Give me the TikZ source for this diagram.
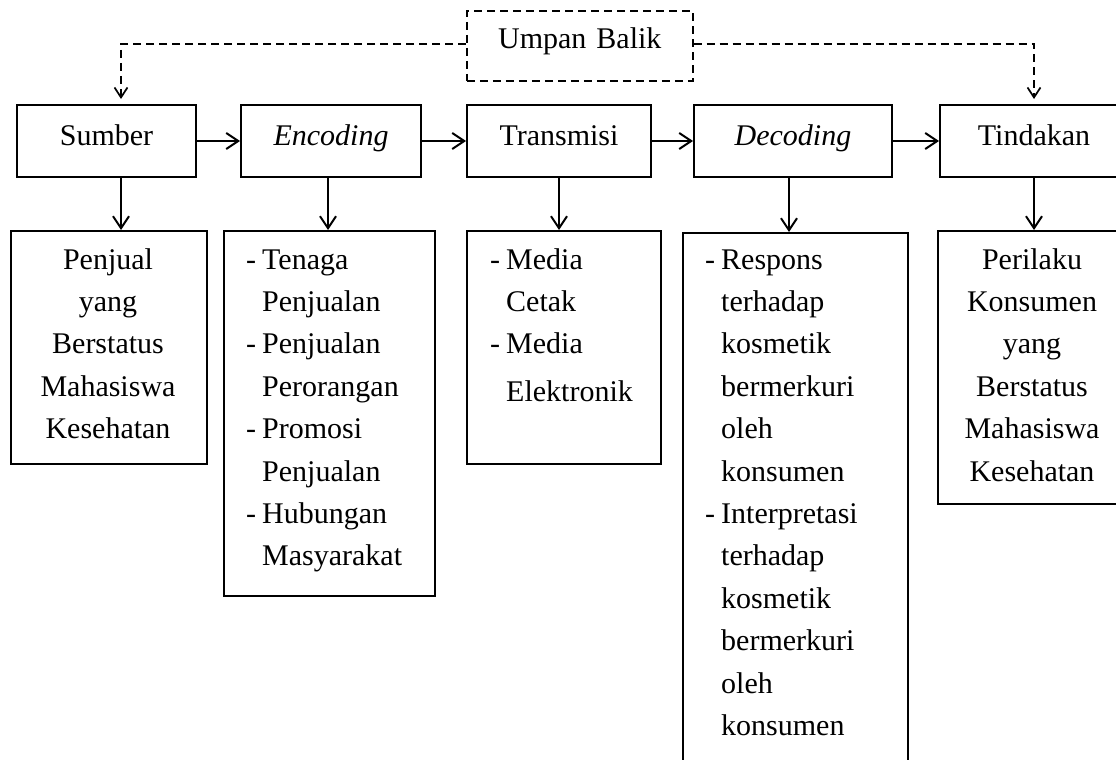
\documentclass[tikz,border=0pt]{standalone}
\usepackage{fontspec}
\setmainfont{Liberation Serif}
\usetikzlibrary{arrows.meta}
\begin{document}
\begin{tikzpicture}[x=1pt,y=-1pt,
  boxst/.style={draw, line width=2pt, inner sep=0pt, anchor=north west, font=\fontsize{30}{42.4}\selectfont, text height=20pt, text depth=12pt},
  lbl/.style={inner sep=0pt, font=\fontsize{30}{42.4}\selectfont},
  arr/.style={line width=2pt, -{Straight Barb[length=12pt,width=16pt,line width=2pt]}},
  fb/.style={line width=1.7pt, dash pattern=on 8pt off 5pt, shorten >=5pt, -{Straight Barb[length=10pt,width=13pt,line width=1.7pt]}}]
\fill[white] (0,0) rectangle (1116,760);
\clip (0,0) rectangle (1116,760);

% top row
\node[boxst, minimum width=179pt, minimum height=72pt] (sum) at (16,104) {Sumber};
\node[boxst, minimum width=180pt, minimum height=72pt] (enc) at (240,104) {\itshape Encoding};
\node[boxst, minimum width=184pt, minimum height=72pt] (tra) at (466,104) {Transmisi};
\node[boxst, minimum width=198pt, minimum height=72pt] (dec) at (693,104) {\itshape Decoding};
\node[boxst, minimum width=188pt, minimum height=72pt] (tin) at (939,104) {Tindakan};

% feedback box
\node[boxst, line width=1.6pt, dash pattern=on 8pt off 5pt, minimum width=226pt, minimum height=70pt, text height=20pt, text depth=14pt] (ub) at (466,10) {Umpan\hspace{10pt}Balik};

% bottom boxes
\node[boxst, minimum width=196pt, minimum height=233pt] (sumB) at (10,230) {};
\node[boxst, minimum width=211pt, minimum height=365pt] (encB) at (223,230) {};
\node[boxst, minimum width=194pt, minimum height=233pt] (traB) at (466,230) {};
\node[boxst, minimum width=225pt, minimum height=600pt] (decB) at (682,232) {};
\node[boxst, minimum width=190pt, minimum height=273pt] (tinB) at (937,230) {};

% texts
\node[lbl, anchor=base] (sumT) at (108,269) {\begin{tabular}[t]{@{}c@{}}Penjual\\yang\\Berstatus\\Mahasiswa\\Kesehatan\end{tabular}};
\node[lbl, anchor=base west] (encT) at (246,269) {\begin{tabular}[t]{@{}l@{\hspace{6pt}}l@{}}-&Tenaga\\&Penjualan\\-&Penjualan\\&Perorangan\\-&Promosi\\&Penjualan\\-&Hubungan\\&Masyarakat\end{tabular}};
\node[lbl, anchor=base west] (traT) at (490,269) {\begin{tabular}[t]{@{}l@{\hspace{6pt}}l@{}}-&Media\\&Cetak\\-&Media\\[5pt]&Elektronik\end{tabular}};
\node[lbl, anchor=base west] (decT) at (705,269) {\begin{tabular}[t]{@{}l@{\hspace{6pt}}l@{}}-&Respons\\&terhadap\\&kosmetik\\&bermerkuri\\&oleh\\&konsumen\\-&Interpretasi\\&terhadap\\&kosmetik\\&bermerkuri\\&oleh\\&konsumen\end{tabular}};
\node[lbl, anchor=base] (tinT) at (1032,269) {\begin{tabular}[t]{@{}c@{}}Perilaku\\Konsumen\\yang\\Berstatus\\Mahasiswa\\Kesehatan\end{tabular}};

% horizontal arrows
\draw[arr] (sum.east) -- (enc.west);
\draw[arr] (enc.east) -- (tra.west);
\draw[arr] (tra.east) -- (dec.west);
\draw[arr] (dec.east) -- (tin.west);

% vertical arrows
\draw[arr] ([xshift=14.5pt]sum.south) -- ([xshift=14.5pt]sum.south |- sumB.north);
\draw[arr] ([xshift=-3pt]enc.south) -- ([xshift=-3pt]enc.south |- encB.north);
\draw[arr] (tra.south) -- (tra.south |- traB.north);
\draw[arr] ([xshift=-4pt]dec.south) -- ([xshift=-4pt]dec.south |- decB.north);
\draw[arr] (tin.south) -- (tin.south |- tinB.north);

% feedback
\draw[fb] ([yshift=2pt]ub.west) -| ([xshift=14.5pt]sum.north);
\draw[fb] ([yshift=2pt]ub.east) -| (tin.north);
\end{tikzpicture}
\end{document}
